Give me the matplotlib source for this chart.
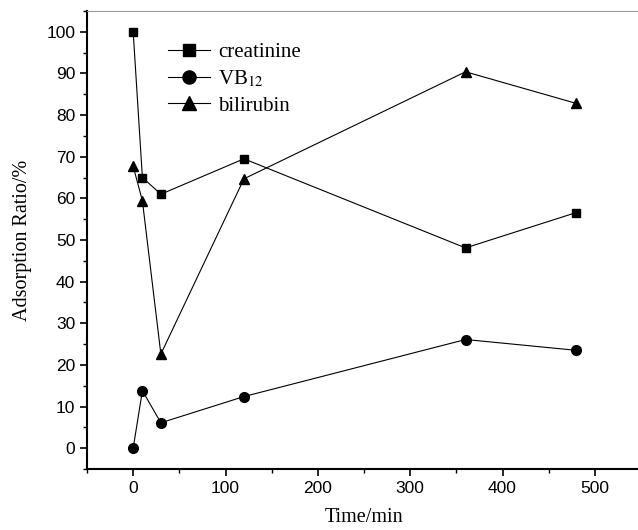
import matplotlib
matplotlib.use("Agg")
import matplotlib.pyplot as plt
from matplotlib.ticker import MultipleLocator

plt.rcParams['mathtext.fontset'] = 'stix'

time_min = [0, 10, 30, 120, 360, 480]
creatinine = [100, 65, 61, 69.5, 48.1, 56.6]
vb12 = [0, 13.8, 6.1, 12.4, 26.1, 23.5]
bilirubin = [67.7, 59.4, 22.6, 64.7, 90.4, 82.8]

sansFont = 'Liberation Sans'
serifFont = 'Liberation Serif'

fig = plt.figure(figsize=(6.38, 5.30), dpi=100)
ax = fig.add_axes([87 / 638, 61 / 530, 554 / 638, 458 / 530])

lineStyle = dict(color='black', linewidth=0.8)
ax.plot(time_min, creatinine, marker='s', markersize=6.2, label='creatinine', **lineStyle)
ax.plot(time_min, vb12, marker='o', markersize=7, label='VB$_{12}$', **lineStyle)
ax.plot(time_min, bilirubin, marker='^', markersize=7.5, label='bilirubin', **lineStyle)

ax.set_xlim(-50, 550)
ax.set_ylim(-5, 105)
ax.xaxis.set_major_locator(MultipleLocator(100))
ax.xaxis.set_minor_locator(MultipleLocator(50))
ax.yaxis.set_major_locator(MultipleLocator(10))
ax.yaxis.set_minor_locator(MultipleLocator(5))
ax.tick_params(which='major', direction='out', length=5, width=1.2, labelsize=12.5)
ax.tick_params(which='minor', direction='out', length=3, width=1.0)
for lbl in ax.get_xticklabels() + ax.get_yticklabels():
    lbl.set_fontfamily(sansFont)

ax.spines['right'].set_visible(False)
ax.spines['top'].set_color('#999999')
ax.spines['top'].set_linewidth(0.8)
ax.spines['left'].set_linewidth(1.5)
ax.spines['bottom'].set_linewidth(1.5)

ax.set_xlabel('Time/min', fontfamily=serifFont, fontsize=14.5, labelpad=9)
ax.set_ylabel('Adsorption Ratio/%', fontfamily=serifFont, fontsize=14.5, labelpad=10)

ax.legend(loc='upper left', bbox_to_anchor=(0.113, 0.972), frameon=False,
          prop={'family': serifFont, 'size': 15}, handlelength=2.0,
          handletextpad=0.4, labelspacing=0.32, markerscale=1.35)

fig.savefig('out.png', dpi=100)
